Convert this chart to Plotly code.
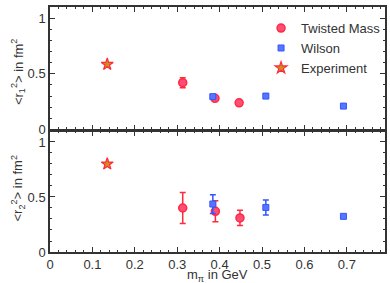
import plotly.graph_objects as go

# Upper panel (r1^2)
tm_x1 = [0.313, 0.389, 0.446]
tm_y1 = [0.42, 0.28, 0.24]
tm_e1 = [0.045, 0.02, 0.015]
w_x1 = [0.384, 0.509, 0.692]
w_y1 = [0.295, 0.30, 0.21]
w_e1 = [0.015, 0.015, 0.01]
exp_x1 = [0.135]
exp_y1 = [0.585]

# Lower panel (r2^2)
tm_x2 = [0.313, 0.390, 0.448]
tm_y2 = [0.40, 0.37, 0.31]
tm_e2 = [0.14, 0.095, 0.07]
w_x2 = [0.384, 0.509, 0.692]
w_y2 = [0.436, 0.405, 0.324]
w_e2 = [0.085, 0.068, 0.012]
exp_x2 = [0.135]
exp_y2 = [0.80]

x_ticks = [0, 0.1, 0.2, 0.3, 0.4, 0.5, 0.6, 0.7]
x_labels = ["0", "0.1", "0.2", "0.3", "0.4", "0.5", "0.6", "0.7"]
y_ticks = [0, 0.5, 1]
y_labels = ["0", "0.5", "1"]

RED = "#ff2a3c"
RED_FILL = "#ff4d7a"
BLUE = "#3355ff"
BLUE_FILL = "#5577ff"
STAR_FILL = "#c9901a"
FONT = "Liberation Sans, Arial"
INK = "#333333"

fig = go.Figure()

def add_panel(xa, ya, tmx, tmy, tme, wx, wy, we, ex, ey, show):
    fig.add_trace(go.Scatter(
        x=tmx, y=tmy, mode="markers", name="Twisted Mass", showlegend=show,
        xaxis=xa, yaxis=ya,
        marker=dict(symbol="circle", size=8, color=RED_FILL, line=dict(color=RED, width=1.5)),
        error_y=dict(type="data", array=tme, color=RED, thickness=1.5, width=3)))
    fig.add_trace(go.Scatter(
        x=wx, y=wy, mode="markers", name="Wilson", showlegend=show,
        xaxis=xa, yaxis=ya,
        marker=dict(symbol="square", size=6, color=BLUE_FILL, line=dict(color=BLUE, width=1)),
        error_y=dict(type="data", array=we, color=BLUE, thickness=1.5, width=3)))
    fig.add_trace(go.Scatter(
        x=ex, y=ey, mode="markers", name="Experiment", showlegend=show,
        xaxis=xa, yaxis=ya,
        marker=dict(symbol="star", size=9, color=STAR_FILL, line=dict(color=RED, width=1.2))))

add_panel("x", "y", tm_x1, tm_y1, tm_e1, w_x1, w_y1, w_e1, exp_x1, exp_y1, True)
add_panel("x2", "y2", tm_x2, tm_y2, tm_e2, w_x2, w_y2, w_e2, exp_x2, exp_y2, False)

axis_common = dict(showline=True, linecolor=INK, linewidth=1.5, mirror="ticks",
                   ticks="inside", ticklen=5, tickwidth=1.2, tickcolor=INK,
                   showgrid=False, zeroline=False, automargin=False,
                   tickfont=dict(family=FONT, size=13, color=INK))

xminor = dict(ticks="inside", ticklen=2.5, dtick=0.02, tickcolor=INK, tickwidth=1, showgrid=False)
yminor = dict(ticks="inside", ticklen=2.5, dtick=0.1, tickcolor=INK, tickwidth=1, showgrid=False)

fig.update_layout(
    width=390, height=283,
    margin=dict(l=50, r=5, t=7, b=31, autoexpand=False),
    plot_bgcolor="white", paper_bgcolor="white",
    font=dict(family=FONT, size=13, color=INK),
    xaxis=dict(domain=[0, 1], anchor="y", range=[0, 0.79], tickvals=x_ticks, ticktext=x_labels,
               showticklabels=False, minor=xminor, **axis_common),
    yaxis=dict(domain=[0.5, 1], anchor="x", range=[0, 1.1], tickvals=y_ticks, ticktext=y_labels,
               minor=yminor, **axis_common),
    xaxis2=dict(domain=[0, 1], anchor="y2", range=[0, 0.79], tickvals=x_ticks, ticktext=x_labels,
                minor=xminor, **axis_common),
    yaxis2=dict(domain=[0, 0.494], anchor="x2", range=[0, 1.1], tickvals=y_ticks, ticktext=y_labels,
                minor=yminor, **axis_common),
    legend=dict(x=0.63, y=0.975, xanchor="left", yanchor="top", bgcolor="rgba(0,0,0,0)",
                font=dict(family=FONT, size=13, color=INK),
                itemsizing="trace", tracegroupgap=0),
    annotations=[
        dict(text="m<sub>π</sub> in GeV", xref="paper", yref="paper", x=0.5, y=-0.095,
             xanchor="center", yanchor="middle", showarrow=False,
             font=dict(family=FONT, size=13, color=INK)),
        dict(text="<r<sub>1</sub><sup>2</sup>> in fm<sup>2</sup>", xref="paper", yref="paper",
             x=-0.095, y=0.735, xanchor="center", yanchor="middle", textangle=-90,
             showarrow=False, font=dict(family=FONT, size=13, color=INK)),
        dict(text="<r<sub>2</sub><sup>2</sup>> in fm<sup>2</sup>", xref="paper", yref="paper",
             x=-0.095, y=0.26, xanchor="center", yanchor="middle", textangle=-90,
             showarrow=False, font=dict(family=FONT, size=13, color=INK)),
    ],
)

fig.write_html("out.html", config={"displayModeBar": False},
               post_script="document.body.style.margin='0';document.body.style.overflow='hidden';")
